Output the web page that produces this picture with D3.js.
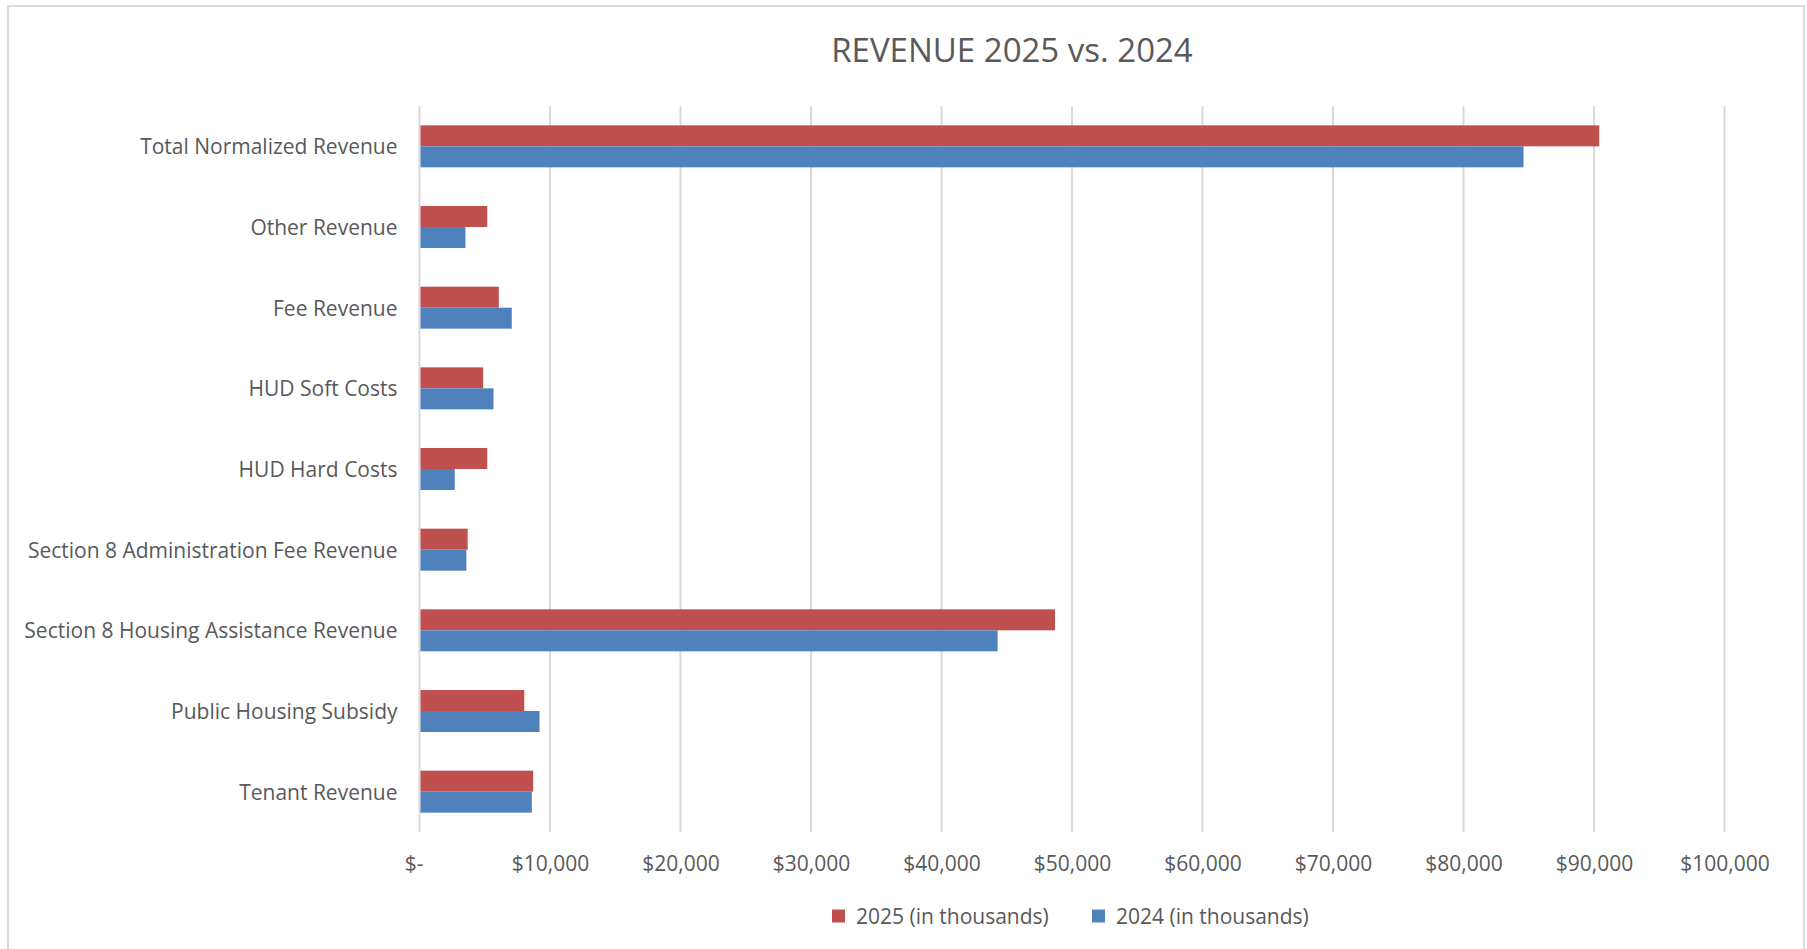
<!DOCTYPE html>
<html>
<head>
<meta charset="utf-8">
<script src="https://cdn.jsdelivr.net/npm/d3@7"></script>
<style>
  html, body { margin: 0; padding: 0; background: #ffffff; }
  svg { display: block; font-family: "Open Sans", "Noto Sans", sans-serif; }
</style>
</head>
<body>
<svg id="chart" width="1807" height="949"></svg>
<script>
// Revenue by category, in thousands of dollars
const categories = [
  "Total Normalized Revenue",
  "Other Revenue",
  "Fee Revenue",
  "HUD Soft Costs",
  "HUD Hard Costs",
  "Section 8 Administration Fee Revenue",
  "Section 8 Housing Assistance Revenue",
  "Public Housing Subsidy",
  "Tenant Revenue"
];
const revenue2025 = [90400, 5190, 6080, 4880, 5190, 3690, 48700, 8030, 8710];
const revenue2024 = [84600, 3520, 7070, 5670, 2700, 3590, 44300, 9200, 8610];
const seriesNames = ["2025 (in thousands)", "2024 (in thousands)"];
const seriesColors = ["#C0504D", "#4F81BD"];
const tickValues = [0, 10000, 20000, 30000, 40000, 50000, 60000, 70000, 80000, 90000, 100000];
const chartTitle = "REVENUE 2025 vs. 2024";

const plot = { left: 419.5, right: 1724.5, top: 106, bottom: 832 };
const textColor = "#595959";
const gridColor = "#d9d9d9";

const svg = d3.select("#chart");

// outer chart frame
svg.append("rect")
  .attr("x", 8).attr("y", 6)
  .attr("width", 1796).attr("height", 970)
  .attr("fill", "#ffffff")
  .attr("stroke", gridColor).attr("stroke-width", 2);

// title
svg.append("text")
  .attr("x", 1012).attr("y", 49)
  .attr("text-anchor", "middle")
  .attr("dominant-baseline", "central")
  .attr("fill", textColor)
  .attr("font-size", 33)
  .text(chartTitle);

const x = d3.scaleLinear().domain([0, 100000]).range([plot.left, plot.right]);
const p = 0.4793;
const y = d3.scaleBand().domain(categories).range([plot.top, plot.bottom])
  .paddingInner(p).paddingOuter(p / 2);
const ySub = d3.scaleBand().domain(seriesNames).range([0, y.bandwidth()]);

// vertical gridlines
svg.append("g").selectAll("line")
  .data(tickValues)
  .join("line")
  .attr("x1", d => x(d)).attr("x2", d => x(d))
  .attr("y1", plot.top).attr("y2", plot.bottom)
  .attr("stroke", gridColor).attr("stroke-width", 2);

// value axis labels
const fmt = d => d === 0 ? "$-" : "$" + d3.format(",")(d);
const xAxis = d3.axisBottom(x).tickValues(tickValues).tickFormat(fmt).tickSize(0).tickPadding(0);
const gx = svg.append("g").attr("transform", `translate(0, 863)`).call(xAxis);
gx.select(".domain").remove();
gx.selectAll("text")
  .attr("y", 0).attr("dy", null)
  .attr("dominant-baseline", "central")
  .attr("fill", textColor)
  .attr("font-size", 21)
  .attr("font-family", "'Open Sans', sans-serif")
  .attr("dx", d => d === 0 ? -6 : 0);

// category labels
const yAxis = d3.axisLeft(y).tickSize(0).tickPadding(22);
const gy = svg.append("g").attr("transform", `translate(${plot.left}, 0)`).call(yAxis);
gy.select(".domain").remove();
gy.selectAll("text")
  .attr("dy", null)
  .attr("dominant-baseline", "central")
  .attr("fill", textColor)
  .attr("font-size", 21)
  .attr("font-family", "'Open Sans', sans-serif");

// bars
const rows = categories.map((c, i) => ({ cat: c, values: [revenue2025[i], revenue2024[i]] }));
const groups = svg.append("g").selectAll("g")
  .data(rows)
  .join("g")
  .attr("transform", d => `translate(0, ${y(d.cat)})`);
groups.selectAll("rect")
  .data(d => d.values.map((v, j) => ({ v, s: seriesNames[j], c: seriesColors[j] })))
  .join("rect")
  .attr("x", x(0) + 1)
  .attr("y", d => ySub(d.s))
  .attr("width", d => x(d.v) - x(0) - 1)
  .attr("height", ySub.bandwidth())
  .attr("fill", d => d.c);

// legend
const legendItems = [
  { name: seriesNames[0], color: seriesColors[0], x: 832 },
  { name: seriesNames[1], color: seriesColors[1], x: 1092 }
];
const lg = svg.append("g").selectAll("g")
  .data(legendItems)
  .join("g")
  .attr("transform", d => `translate(${d.x}, 916)`);
lg.append("rect")
  .attr("x", 0).attr("y", -6.5)
  .attr("width", 13).attr("height", 13)
  .attr("fill", d => d.color);
lg.append("text")
  .attr("x", 24).attr("y", 0)
  .attr("dominant-baseline", "central")
  .attr("fill", textColor)
  .attr("font-size", 21)
  .text(d => d.name);
</script>
</body>
</html>
